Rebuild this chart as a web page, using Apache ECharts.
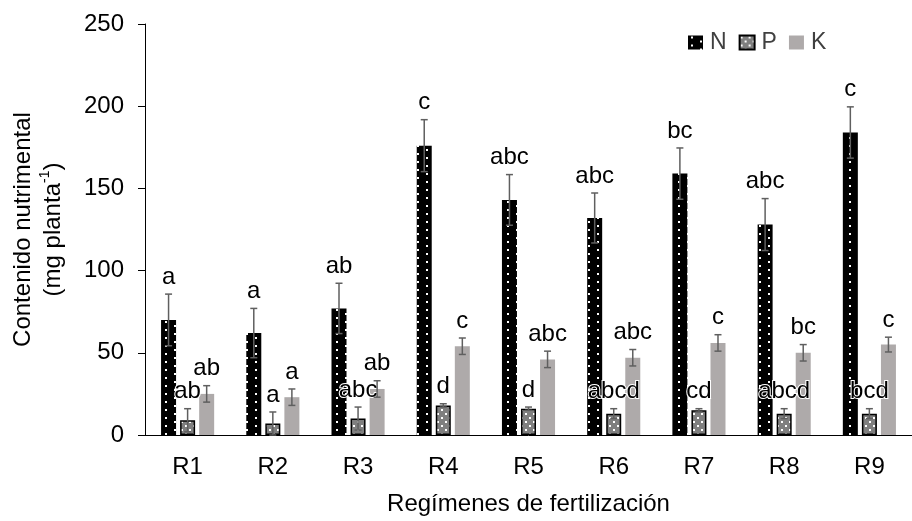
<!DOCTYPE html>
<html>
<head>
<meta charset="utf-8">
<script src="https://cdn.jsdelivr.net/npm/echarts@6/dist/echarts.min.js"></script>
<style>html,body{margin:0;padding:0;background:#fff;}#c{width:912px;height:521px;}</style>
</head>
<body>
<div id="c"></div>
<script>
const categories = ['R1','R2','R3','R4','R5','R6','R7','R8','R9'];
const seriesNames = ['N','P','K'];
const nValues = [70, 62, 77, 176, 143, 132, 159, 128, 184];
const nErrors = [15.7, 15, 15.3, 15.8, 15.4, 15.2, 15.6, 15.8, 15.6];
const nLetters = ['a','a','ab','c','abc','abc','bc','abc','c'];
const pValues = [9, 7, 10, 18, 16, 13, 15, 13, 13];
const pErrors = [7, 7, 7, 1, 1, 3, 1, 3, 3];
const pLetters = ['ab','a','abc','d','d','abcd','cd','abcd','bcd'];
const kValues = [25, 23, 28, 54, 46, 47, 56, 50, 55];
const kErrors = [5, 5, 5, 5, 5, 5, 5, 5, 4.5];
const kLetters = ['ab','a','ab','c','abc','abc','c','bc','c'];
const yTicks = { min: 0, max: 250, interval: 50 };

const FONT = '"Liberation Sans", Arial, sans-serif';
const BAR_W = 15;
const BAR_GAP = 0.27;
const STEP = BAR_W * (1 + BAR_GAP);

function dotPattern(bg, w, h, dots, size) {
  const c = document.createElement('canvas');
  c.width = w; c.height = h;
  const g = c.getContext('2d');
  g.fillStyle = bg; g.fillRect(0, 0, w, h);
  g.fillStyle = '#fff';
  dots.forEach(d => g.fillRect(d[0], d[1], size, size));
  return { image: c, repeat: 'repeat' };
}
const nFill = dotPattern('#000', 18, 8, [[3, 1], [12, 5]], 2);
const pFill = dotPattern('#7f7f7f', 8, 8, [[1, 1], [5, 5]], 2);
const kFill = '#aeaaaa';

function errSeries(k, vals, errs, letters) {
  return {
    type: 'custom',
    z: 5,
    silent: true,
    data: vals.map((v, i) => [i, v, errs[i]]),
    renderItem: function (params, api) {
      const i = api.value(0), v = api.value(1), e = api.value(2);
      const top = api.coord([i, v + e]);
      const bot = api.coord([i, Math.max(0, v - e)]);
      const x = top[0] + k * STEP;
      const cap = 3.5;
      const st = { stroke: '#5f5f5f', lineWidth: 1.5 };
      return {
        type: 'group',
        children: [
          { type: 'line', shape: { x1: x, y1: top[1], x2: x, y2: bot[1] }, style: st },
          { type: 'line', shape: { x1: x - cap, y1: top[1], x2: x + cap, y2: top[1] }, style: st },
          { type: 'line', shape: { x1: x - cap, y1: bot[1], x2: x + cap, y2: bot[1] }, style: st },
          { type: 'text', x: x, y: top[1] - 17, style: {
              text: letters[params.dataIndex], fill: '#000', font: '24px ' + FONT,
              align: 'center', verticalAlign: 'middle',
              stroke: '#fff', lineWidth: 2
          } }
        ]
      };
    }
  };
}

const chart = echarts.init(document.getElementById('c'), null, { renderer: 'canvas' });
chart.setOption({
  animation: false,
  backgroundColor: '#fff',
  textStyle: { fontFamily: FONT },
  grid: { left: 143, top: 24, width: 777, height: 411 },
  legend: {
    left: 688, top: 31, padding: 0, itemGap: 12,
    itemWidth: 15, itemHeight: 14, icon: 'rect',
    textStyle: { fontSize: 23, color: '#404040', fontFamily: FONT, padding: [0, 0, 0, 2] },
    data: seriesNames
  },
  xAxis: {
    type: 'category', data: categories,
    axisLine: { lineStyle: { color: '#000', width: 1 } },
    axisTick: { alignWithLabel: true, length: 6, lineStyle: { color: '#000' } },
    axisLabel: { fontSize: 24, color: '#000', margin: 20, fontFamily: FONT },
    name: 'Regímenes de fertilización', nameLocation: 'middle', nameGap: 57,
    nameTextStyle: { fontSize: 24, color: '#000', fontFamily: FONT }
  },
  yAxis: {
    type: 'value', min: yTicks.min, max: yTicks.max, interval: yTicks.interval,
    splitLine: { show: false },
    axisLine: { show: true, lineStyle: { color: '#000', width: 1 } },
    axisTick: { show: true, length: 7, lineStyle: { color: '#000' } },
    axisLabel: { fontSize: 24, color: '#000', margin: 21, fontFamily: FONT },
    name: 'Contenido nutrimental\n(mg planta{sup|-1})',
    nameLocation: 'middle', nameGap: 77, nameRotate: 90,
    nameTextStyle: {
      fontSize: 24, color: '#000', fontFamily: FONT, lineHeight: 30,
      rich: { sup: { fontSize: 14, verticalAlign: 'top', lineHeight: 30, color: '#000', fontFamily: FONT } }
    }
  },
  series: [
    { name: 'N', type: 'bar', data: nValues, barWidth: BAR_W, barGap: (BAR_GAP * 100) + '%',
      itemStyle: { color: nFill } },
    { name: 'P', type: 'bar', data: pValues, barWidth: BAR_W,
      itemStyle: { color: pFill, borderColor: '#000', borderWidth: 1.5 } },
    { name: 'K', type: 'bar', data: kValues, barWidth: BAR_W,
      itemStyle: { color: kFill } },
    errSeries(-1, nValues, nErrors, nLetters),
    errSeries(0, pValues, pErrors, pLetters),
    errSeries(1, kValues, kErrors, kLetters)
  ]
});
</script>
</body>
</html>
